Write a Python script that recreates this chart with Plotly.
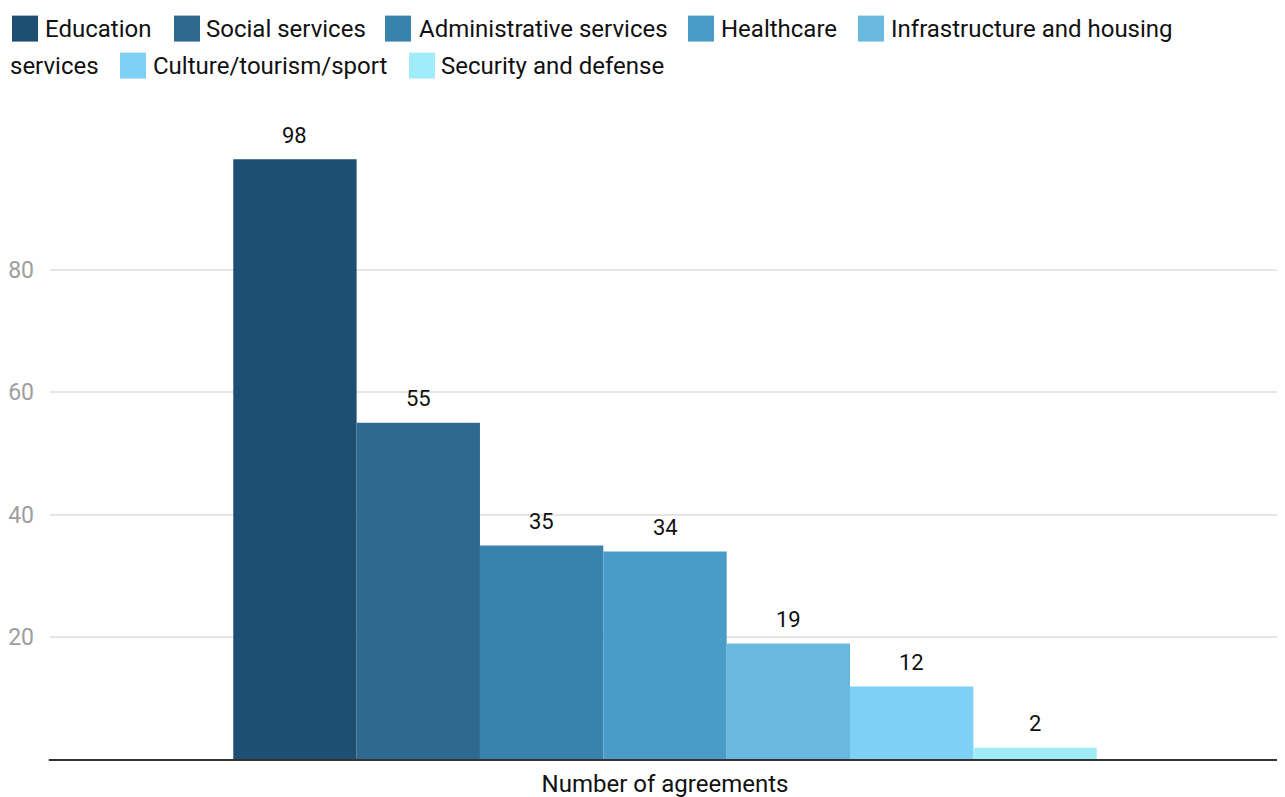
import plotly.graph_objects as go

categories = ["Education", "Social services", "Administrative services", "Healthcare",
              "Infrastructure and housing services", "Culture/tourism/sport", "Security and defense"]
values = [98, 55, 35, 34, 19, 12, 2]
colors = ["#1f4e73", "#2e6a90", "#3982ad", "#4a9cc8", "#68b8e0", "#7fd0f5", "#a0ecf8"]
x_label = "Number of agreements"
y_ticks = [20, 40, 60, 80]

OFF = 8  # page body margin
W, H = 1277, 789
ML, MR, MT, MB = 42, 5, 138.5, 37
PW, PH = W - ML - MR, H - MT - MB
FONT = "Roboto"
BARGAP = 0.298

def px_x(px):
    return (px - OFF - ML) / PW

def px_y(py):
    return (H - MB - (py - OFF)) / PH

fig = go.Figure()
n = len(values)
bar_px = PW * (1 - BARGAP) / n
annotations = []
for i, (name, v, c) in enumerate(zip(categories, values, colors)):
    fig.add_trace(go.Bar(
        x=[x_label], y=[v], name=name, marker=dict(color=c, line=dict(width=0)),
        showlegend=False, hoverinfo="name+y",
    ))
    annotations.append(dict(x=x_label, y=v, xref="x", yref="y", text=str(v),
                            showarrow=False, xanchor="center", yanchor="middle",
                            xshift=(i - (n - 1) / 2) * bar_px, yshift=24,
                            font=dict(family=FONT, size=22, color="#111111")))

# Custom flowing legend (mimics wrapping of the original)
legend_rows = [
    (12, 45, 28, categories[0], 0),
    (174, 206, 28, categories[1], 1),
    (385, 419, 28, categories[2], 2),
    (688, 721, 28, categories[3], 3),
    (858, 891, 28, "Infrastructure and housing", 4),
    (None, 10, 65, "services", None),
    (120, 153, 65, categories[5], 5),
    (409, 441, 65, categories[6], 6),
]
shapes = []
for sq, tx, cy, txt, ci in legend_rows:
    if sq is not None:
        shapes.append(dict(type="rect", xref="paper", yref="paper",
                           x0=px_x(sq), x1=px_x(sq + 26), y0=px_y(cy + 13), y1=px_y(cy - 13),
                           fillcolor=colors[ci], line=dict(width=0), layer="above"))
    annotations.append(dict(text=txt, xref="paper", yref="paper", x=px_x(tx - 2), y=px_y(cy),
                            xanchor="left", yanchor="middle", showarrow=False,
                            font=dict(family=FONT, size=24, color="#111111")))

# Baseline
shapes.append(dict(type="line", xref="paper", yref="paper", x0=-0.001, x1=1, y0=0, y1=0,
                   line=dict(color="#333333", width=2), layer="above"))

fig.update_layout(
    width=W, height=H,
    margin=dict(l=ML, r=MR, t=MT, b=MB, pad=0, autoexpand=False),
    paper_bgcolor="white", plot_bgcolor="white",
    barmode="group", bargap=BARGAP, bargroupgap=0,
    shapes=shapes, annotations=annotations,
    xaxis=dict(showgrid=False, showline=False, zeroline=False, ticks="",
               automargin=False, ticklabelstandoff=7,
               tickfont=dict(family=FONT, size=24, color="#111111")),
    yaxis=dict(range=[0, 100], tickvals=y_ticks, showgrid=True, gridcolor="#e6e6e6",
               gridwidth=1.5, zeroline=False, showline=False, ticks="",
               automargin=False, ticklabelstandoff=15,
               tickfont=dict(family=FONT, size=23, color="#9e9e9e")),
    font=dict(family=FONT),
)

fig.write_html("out.html")
